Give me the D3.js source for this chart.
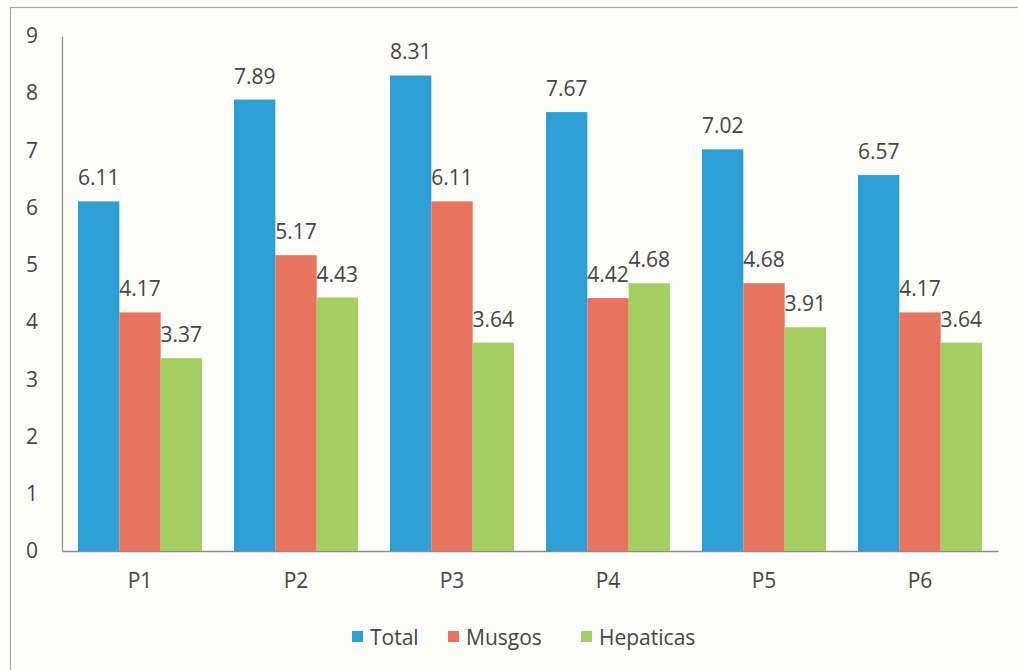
<!DOCTYPE html>
<html>
<head>
<meta charset="utf-8">
<script src="https://cdn.jsdelivr.net/npm/d3@7"></script>
<style>
  html, body { margin: 0; padding: 0; background: #fdfdfa; }
  svg { display: block; }
  text { font-family: "Open Sans", Lato, sans-serif; fill: #454545; }
</style>
</head>
<body>
<svg id="chart" width="1018" height="670"></svg>
<script>
// Sites and bryophyte richness per site
const categories = ["P1", "P2", "P3", "P4", "P5", "P6"];
const seriesNames = ["Total", "Musgos", "Hepaticas"];
const total     = [6.11, 7.89, 8.31, 7.67, 7.02, 6.57];
const musgos    = [4.17, 5.17, 6.11, 4.42, 4.68, 4.17];
const hepaticas = [3.37, 4.43, 3.64, 4.68, 3.91, 3.64];
const yTicks = [0, 1, 2, 3, 4, 5, 6, 7, 8, 9];

const seriesValues = [total, musgos, hepaticas];
const colors = ["#2e9fd4", "#e8735e", "#a3cf62"];
const FONT = "'Open Sans', Lato, sans-serif";

const svg = d3.select("#chart");

// outer frame
svg.append("rect")
  .attr("x", 10.5).attr("y", 7.5)
  .attr("width", 1030).attr("height", 700)
  .attr("fill", "none").attr("stroke", "#a8a8a8").attr("stroke-width", 1.2);

const x0 = d3.scaleBand().domain(categories).range([62, 998])
  .paddingInner(0.205).paddingOuter(0.1025);
const x1 = d3.scaleBand().domain(seriesNames).range([0, x0.bandwidth()]);
const y = d3.scaleLinear().domain([0, 9]).range([551, 36]);
const color = d3.scaleOrdinal().domain(seriesNames).range(colors);

// y axis
const yAxis = svg.append("g").attr("transform", "translate(62,0)")
  .call(d3.axisLeft(y).tickValues(yTicks).tickSize(0).tickPadding(22));
yAxis.select(".domain").attr("stroke", "#8c8c8c").attr("stroke-width", 1.2);
yAxis.selectAll("text").attr("font-size", 21).style("font-family", FONT)
  .attr("fill", "#454545").attr("text-anchor", "middle").attr("x", -30);

// x axis
const xAxis = svg.append("g").attr("transform", "translate(0,551)")
  .call(d3.axisBottom(x0).tickSize(0).tickPadding(22));
xAxis.select(".domain").attr("stroke", "#8c8c8c").attr("stroke-width", 1.5);
xAxis.selectAll("text").attr("font-size", 21).style("font-family", FONT).attr("fill", "#454545");

// bars
const rows = categories.map((c, i) => ({
  cat: c,
  vals: seriesNames.map((s, j) => ({ s, v: seriesValues[j][i] }))
}));

const groups = svg.append("g").selectAll("g").data(rows).join("g")
  .attr("transform", d => `translate(${x0(d.cat)},0)`);

groups.selectAll("rect").data(d => d.vals).join("rect")
  .attr("x", d => x1(d.s))
  .attr("y", d => y(d.v))
  .attr("width", x1.bandwidth())
  .attr("height", d => y(0) - y(d.v))
  .attr("fill", d => color(d.s));

groups.selectAll("text").data(d => d.vals).join("text")
  .attr("x", d => x1(d.s) + x1.bandwidth() / 2)
  .attr("y", d => y(d.v) - 16)
  .attr("text-anchor", "middle")
  .attr("font-size", 21)
  .text(d => d.v.toFixed(2));

// legend
const legendX = [352, 448, 581];
const legend = svg.append("g").selectAll("g").data(seriesNames).join("g")
  .attr("transform", (d, i) => `translate(${legendX[i]},631)`);
legend.append("rect").attr("width", 11).attr("height", 11).attr("fill", d => color(d));
legend.append("text").attr("x", 18).attr("y", 14).attr("font-size", 21).text(d => d);
</script>
</body>
</html>
